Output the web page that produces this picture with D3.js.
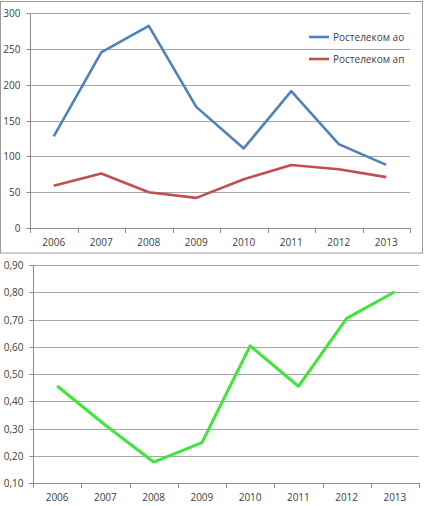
<!DOCTYPE html>
<html><head><meta charset="utf-8">
<script src="https://cdn.jsdelivr.net/npm/d3@7"></script>
<style>body{margin:0;background:#fff}svg{display:block}</style>
</head><body>
<svg id="c" width="424" height="506"></svg>
<script>
const years = ["2006","2007","2008","2009","2010","2011","2012","2013"];
const seriesAo = [128, 245, 282, 169, 111, 191, 117, 88];
const seriesAp = [59, 76, 50, 42, 68, 88, 82, 71];
const ratio = [0.456, 0.312, 0.177, 0.248, 0.603, 0.455, 0.704, 0.802];
const topTicks = [0, 50, 100, 150, 200, 250, 300];
const bottomTicks = [0.1, 0.2, 0.3, 0.4, 0.5, 0.6, 0.7, 0.8, 0.9];
const legendNames = ["Ростелеком ао", "Ростелеком ап"];

const svg = d3.select("#c");
const font = "'Open Sans', sans-serif";
const textCol = "#404040";
const gridCol = "#a6a6a6";

// frame of top chart
svg.append("rect").attr("x",0.5).attr("y",1.5).attr("width",422).attr("height",251.5)
  .attr("fill","none").attr("stroke","#9a9a9a").attr("stroke-width",1);

function chart(g, opts){
  const x = d3.scaleBand().domain(years).range([opts.x0, opts.x1]);
  const y = d3.scaleLinear().domain(opts.domain).range([opts.y0, opts.y1]);
  // grid
  g.append("g").selectAll("line").data(opts.ticks.slice(1)).join("line")
    .attr("x1",opts.x0).attr("x2",opts.x1)
    .attr("y1",d=>Math.round(y(d))+0.5).attr("y2",d=>Math.round(y(d))+0.5)
    .attr("stroke",gridCol).attr("stroke-width",1);
  // y axis
  const ya = g.append("g").attr("transform",`translate(${opts.x0+0.5},0)`)
    .call(d3.axisLeft(y).tickValues(opts.ticks).tickSize(4).tickPadding(6).tickFormat(opts.fmt));
  ya.select(".domain").attr("stroke","#8c8c8c");
  ya.selectAll(".tick line").attr("stroke","#8c8c8c");
  ya.selectAll("text").attr("fill",textCol).style("font-family",font).style("font-size","10px");
  ya.selectAll(".tick").attr("transform",d=>`translate(0,${Math.round(y(d))+0.5})`);
  ya.select(".domain").attr("d",`M-4,${Math.round(y(opts.domain[1]))+0.5}H0V${Math.round(y(opts.domain[0]))+0.5}H-4`);
  // x axis
  const xa = g.append("g").attr("transform",`translate(0,${Math.round(y(opts.domain[0]))+0.5})`)
    .call(d3.axisBottom(x).tickSize(0).tickPadding(10));
  xa.select(".domain").attr("stroke","#8c8c8c").attr("d",`M${opts.x0},0H${opts.x1}`);
  xa.selectAll("text").attr("fill",textCol).style("font-family",font).style("font-size","10px");
  g.append("g").selectAll("line").data(d3.range(years.length+1)).join("line")
    .attr("x1",i=>Math.round(opts.x0 + i*x.step())+0.5).attr("x2",i=>Math.round(opts.x0 + i*x.step())+0.5)
    .attr("y1",Math.round(y(opts.domain[0]))).attr("y2",Math.round(y(opts.domain[0]))+5)
    .attr("stroke","#8c8c8c");
  const line = d3.line().x((d,i)=>x(years[i])+x.bandwidth()/2).y(d=>y(d));
  opts.series.forEach(s=>{
    g.append("path").datum(s.values).attr("d",line).attr("fill","none")
      .attr("stroke",s.color).attr("stroke-width",s.width||2.6).attr("stroke-linejoin","round");
  });
  return {x,y};
}

chart(svg.append("g"), {
  x0:30, x1:410, y0:228, y1:13, domain:[0,300], ticks:topTicks, fmt:d3.format("d"),
  series:[{values:seriesAo,color:"#4f81bd"},{values:seriesAp,color:"#c0504d"}]
});

// legend
const leg = svg.append("g");
[["#4f81bd",0],["#c0504d",1]].forEach(([c,i])=>{
  const yy = 37 + i*22;
  leg.append("line").attr("x1",309).attr("x2",329).attr("y1",yy).attr("y2",yy)
    .attr("stroke",c).attr("stroke-width",2.6);
  leg.append("text").attr("x",333).attr("y",yy).attr("dy","0.35em").text(legendNames[i])
    .attr("fill",textCol).style("font-family",font).style("font-size","10px");
});

chart(svg.append("g"), {
  x0:33, x1:419, y0:483, y1:265, domain:[0.1,0.9], ticks:bottomTicks,
  fmt:d=>d3.format(".2f")(d).replace(".",","),
  series:[{values:ratio,color:"#3ee63a",width:3}]
});
</script>
</body></html>
